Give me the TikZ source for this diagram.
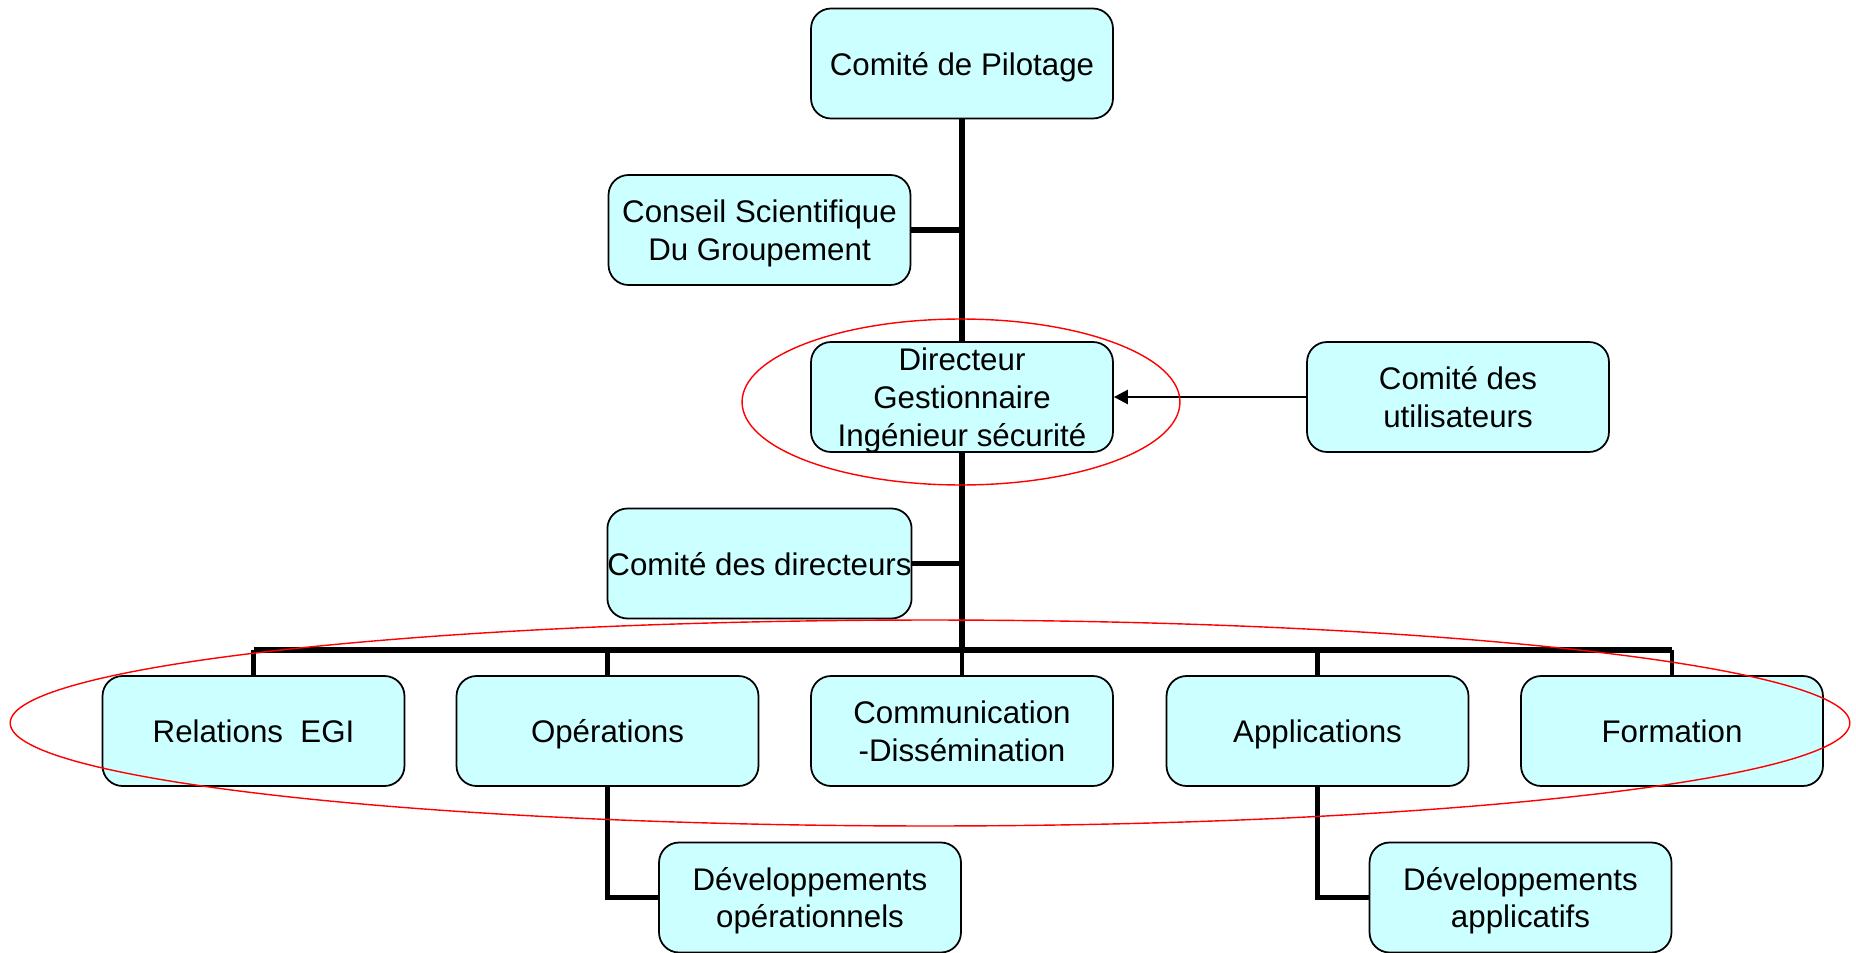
\documentclass[tikz,border=0pt]{standalone}
\usepackage{fontspec}
\setmainfont{Liberation Sans}
\usepackage{tikz}
\usetikzlibrary{shapes,arrows.meta,backgrounds,positioning}
\definecolor{boxcyan}{RGB}{204,255,255}
\tikzset{
  unit/.style = {draw, line width=1pt, fill=boxcyan, rounded corners=0.4cm,
                 minimum width=6.04cm, minimum height=2.2cm, inner sep=0pt,
                 text depth=0pt, align=center, font=\fontsize{17.8}{21.6}\selectfont},
  trunk/.style = {line width=3.4pt},
  branch/.style = {line width=2.3pt},
  ring/.style = {draw=red, line width=0.8pt}
}
\begin{document}
\begin{tikzpicture}[x=0.02cm, y=-0.02cm]
\useasboundingbox (0,0) rectangle (1856,953);
% upper part
\node[unit] (pil) at (962,63.5) {Comité de Pilotage};
\node[unit] (cons) at (759.5,230) {Conseil Scientifique\\Du Groupement};
\node[unit] (dir) at (962,397) {Directeur\\Gestionnaire\\Ingénieur sécurité};
\node[unit] (util) at (1458,397) {Comité des\\utilisateurs};
\node[unit] (dirs) at (759.5,563.5) {Comité des directeurs};
\coordinate (bus) at (962,650);
% lower part
\foreach \name/\x/\txt in {rel/253.5/Relations\ \ EGI, ops/607.5/Opérations,
    com/962/Communication\\-Dissémination, app/1317.5/Applications, form/1672/Formation}
  \node[unit] (\name) at (\x,731) {\txt};
\node[unit] (devop) at (810,897.5) {Développements\\opérationnels};
\node[unit] (devapp) at (1520.5,897.5) {Développements\\applicatifs};
% connectors
\draw[trunk] (pil.south) -- (dir.north);
\draw[trunk] (dir.south) -- (bus);
\draw[trunk] (cons.east) -- (cons.east -| pil.south);
\draw[trunk] (dirs.east) -- (dirs.east -| pil.south);
\draw[trunk] (rel.north |- bus) -- (form.north |- bus);
\foreach \name in {rel,ops,com,app,form}
  \draw[branch] (\name.north) -- (\name.north |- bus);
\draw[branch] (ops.south) |- (devop.west);
\draw[branch] (app.south) |- (devapp.west);
\draw[-{Triangle[length=0.28cm,width=0.28cm]}, line width=1.4pt] (util.west) -- (dir.east);
% red rings
\draw[ring] (961,402) ellipse [x radius=4.38cm, y radius=1.66cm];
\draw[ring] (930,723) ellipse [x radius=18.4cm, y radius=2.06cm];
\end{tikzpicture}
\end{document}
